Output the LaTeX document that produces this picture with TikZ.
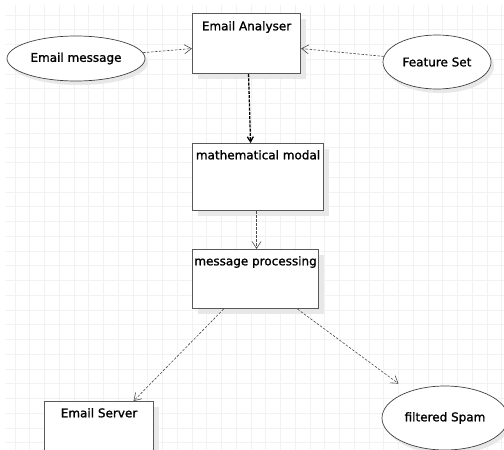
\documentclass[tikz,border=0pt]{standalone}
\usepackage{fontspec}
\setmainfont{DejaVu Sans}
\newfontfamily\diafont{DejaVu Sans}[FakeBold=1.3]
\usetikzlibrary{arrows.meta,shadows,shapes.geometric,positioning}

\tikzset{
  gridline/.style={draw=black!5, line width=0.6pt},
  box/.style={rectangle, draw=black!65, line width=1.1pt, fill=white, anchor=north west,
    drop shadow={shadow xshift=5pt, shadow yshift=-5pt, fill=black!9, opacity=1}},
  usecase/.style={ellipse, draw=black!75, line width=0.7pt, fill=white, inner sep=0pt,
    font=\diafont\fontsize{12}{14}\selectfont,
    drop shadow={shadow xshift=3pt, shadow yshift=-4pt, fill=black!9, opacity=1}},
  boxtitle/.style={inner sep=0pt, font=\diafont\fontsize{12}{14}\selectfont},
  flow/.style={draw=black!70, line width=0.6pt, dash pattern=on 2.5pt off 1.5pt,
    -{Straight Barb[length=7pt,width=9pt]}},
  heavyflow/.style={draw=black, line width=1.3pt, dash pattern=on 3pt off 1.2pt,
    -{Straight Barb[length=5pt,width=6pt]}}
}

\begin{document}
\begin{tikzpicture}[x=1pt,y=-1pt]

  \clip (0,0) rectangle (504,450);
  \fill[white] (0,0) rectangle (504,450);

  \foreach \i in {0,...,33}{
    \draw[gridline] (15+14.75*\i,5) -- (15+14.75*\i,450);
  }
  \foreach \i in {0,...,29}{
    \draw[gridline] (5,15+14.75*\i) -- (504,15+14.75*\i);
  }

  \node[box, minimum width=108, minimum height=60] (ana) at (192,13) {};
  \node[boxtitle, below=8pt of ana.north] (anaT) {Email Analyser};

  \node[box, minimum width=131, minimum height=67] (mm) at (192,143) {};
  \node[boxtitle, below=7pt of mm.north] (mmT) {mathematical modal};

  \node[box, minimum width=126, minimum height=59] (mp) at (192,249) {};
  \node[boxtitle, below=7pt of mp.north] (mpT) {message processing};

  \node[box, minimum width=109, minimum height=70] (es) at (44,401) {};
  \node[boxtitle, below=7pt of es.north] (esT) {Email Server};

  \node[usecase, minimum width=138, minimum height=45] (em) at (76,58.5) {Email message};
  \node[usecase, minimum width=108, minimum height=54] (fs) at (437,62) {Feature Set};
  \node[usecase, minimum width=126, minimum height=64] (fsp) at (445,418) {filtered Spam};

  \draw[flow] (em.5) -- ([yshift=-5pt]ana.west);
  \draw[flow] (fs.174) -- ([yshift=-5pt]ana.east);
  \draw[heavyflow] ([xshift=2pt]ana.south) -- ([xshift=-7.5pt]mm.north);
  \draw[flow] ([xshift=-1.5pt]mm.south) -- ([xshift=1pt]mp.north);
  \draw[flow] ([xshift=-32pt]mp.south) -- ([xshift=34.5pt]es.north);
  \draw[flow, shorten >=13pt] ([xshift=42pt]mp.south) -- (fsp);

\end{tikzpicture}
\end{document}
